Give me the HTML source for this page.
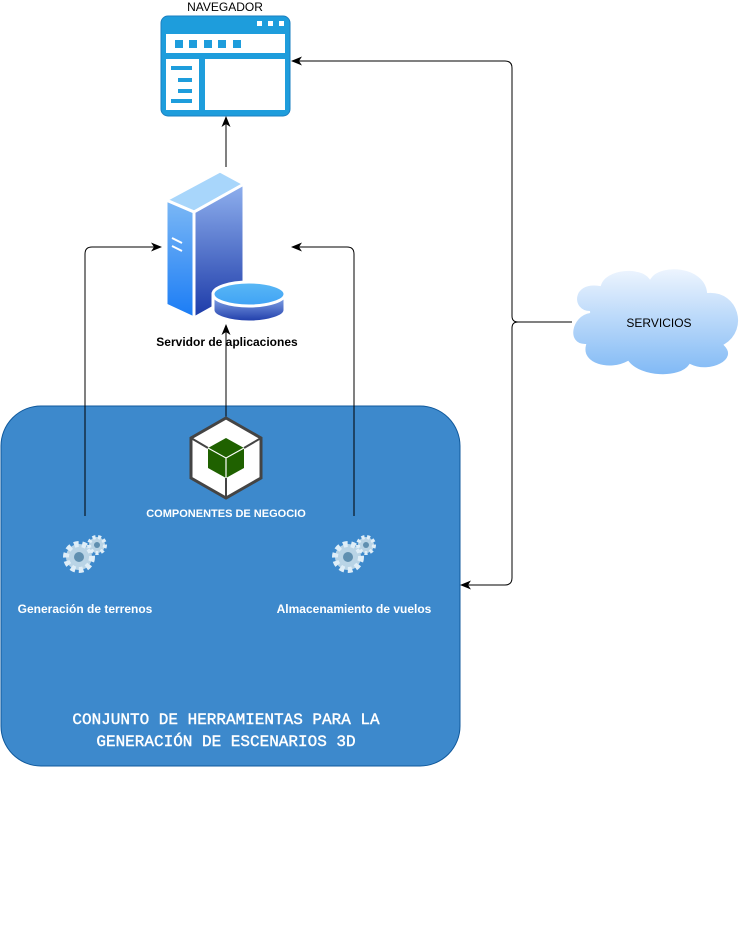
<!DOCTYPE html>
<html><head><meta charset="utf-8"><style>body{margin:0;background:#fff}svg{display:block}</style></head><body>
<svg width="748" height="947" viewBox="0 0 748 947" xmlns="http://www.w3.org/2000/svg" font-family="Liberation Sans, Arial, sans-serif">
<defs>
<marker id="a" markerWidth="12" markerHeight="12" refX="10" refY="6" orient="auto" markerUnits="userSpaceOnUse"><path d="M0,1.5 L11,6 L0,10.5 L3,6 Z" fill="#000"/></marker>
<linearGradient id="sv" x1="0" y1="0" x2="0" y2="1"><stop offset="0" stop-color="#7cb8f5"/><stop offset="1" stop-color="#1a7cf5"/></linearGradient>
<linearGradient id="sv2" x1="0" y1="0" x2="0" y2="1"><stop offset="0" stop-color="#8fb0ee"/><stop offset="1" stop-color="#1c3aa8"/></linearGradient>
<linearGradient id="sv3" x1="0" y1="0" x2="0" y2="1"><stop offset="0" stop-color="#5ab8f5"/><stop offset="1" stop-color="#3fa2f5"/></linearGradient>
<linearGradient id="cl" x1="0" y1="0" x2="0" y2="1"><stop offset="0" stop-color="#eef5fe"/><stop offset="1" stop-color="#80b9f5"/></linearGradient>
</defs>
<rect x="1" y="406" width="459" height="360" rx="40" fill="#3d89cc" stroke="#10599c" stroke-width="1"/>
<text x="225" y="11" font-size="12" text-anchor="middle" fill="#000">NAVEGADOR</text>
<rect x="161" y="16" width="129" height="100" rx="7" fill="#1e9ddc" stroke="#1a7fc0"/>
<rect x="257" y="21" width="5" height="5" fill="#fff"/><rect x="268" y="21" width="5" height="5" fill="#fff"/><rect x="279" y="21" width="5" height="5" fill="#fff"/>
<rect x="166" y="34" width="119" height="19" fill="#fff"/>
<g fill="#1e9ddc"><rect x="175" y="40" width="8" height="8"/><rect x="189" y="40" width="8" height="8"/><rect x="204" y="40" width="8" height="8"/><rect x="218" y="40" width="8" height="8"/><rect x="233" y="40" width="8" height="8"/></g>
<rect x="166" y="59" width="33" height="51" fill="#fff"/>
<rect x="205" y="59" width="80" height="51" fill="#fff"/>
<g fill="#1e9ddc"><rect x="171" y="66" width="21" height="4"/><rect x="178" y="78" width="14" height="4"/><rect x="178" y="89" width="14" height="4"/><rect x="171" y="99" width="21" height="4"/></g>
<polygon points="166,200 220,171 244,184 194,212" fill="#a8d6fb" stroke="#fff" stroke-width="3"/>
<polygon points="166,200 194,212 194,318 166,305" fill="url(#sv)" stroke="#fff" stroke-width="3"/>
<polygon points="194,212 244,184 244,290 194,318" fill="url(#sv2)" stroke="#fff" stroke-width="3"/>
<line x1="172" y1="238" x2="182" y2="243" stroke="#fff" stroke-width="2"/><line x1="172" y1="246" x2="182" y2="251" stroke="#fff" stroke-width="2"/>
<path d="M213,294 L213,310 A36,12 0 0 0 285,310 L285,294 Z" fill="url(#sv2)" stroke="#fff" stroke-width="3"/>
<ellipse cx="249" cy="294" rx="36" ry="12" fill="url(#sv3)" stroke="#fff" stroke-width="3"/>
<text x="227" y="346" font-size="12" font-weight="bold" text-anchor="middle" fill="#000">Servidor de aplicaciones</text>
<g fill="none" stroke="#000" stroke-width="1">
<line x1="226" y1="167" x2="226" y2="117" marker-end="url(#a)"/>
<line x1="226" y1="417" x2="226" y2="325" marker-end="url(#a)"/>
<path d="M85,516 L85,254 Q85,247 92,247 L161,247" marker-end="url(#a)"/>
<path d="M354,516 L354,254 Q354,247 347,247 L292,247" marker-end="url(#a)"/>
<path d="M572,322 L518,322 Q512,322 512,316 L512,68 Q512,61 505,61 L292,61" marker-end="url(#a)"/>
<path d="M518,322 Q512,322 512,328 L512,578 Q512,585 505,585 L461,585" marker-end="url(#a)"/>
</g>
<g fill="url(#cl)" stroke="#fff" stroke-width="2">
<path d="M590,312 C570,312 570,280 600,285 C605,268 640,265 650,278 C660,262 705,265 708,292 C740,290 750,330 725,345 C740,360 710,375 690,365 C680,380 640,378 628,362 C610,372 580,365 585,345 C565,345 570,315 590,312 Z"/>
</g>
<text x="659" y="327" font-size="12" text-anchor="middle" fill="#000">SERVICIOS</text>
<polygon points="226,418 261,438 261,478 226,498 191,478 191,438" fill="#fff" stroke="#444" stroke-width="3"/>
<line x1="191" y1="438" x2="208" y2="448" stroke="#444" stroke-width="2"/><line x1="261" y1="438" x2="244" y2="448" stroke="#444" stroke-width="2"/><line x1="226" y1="478" x2="226" y2="498" stroke="#444" stroke-width="2"/>
<polygon points="226,438 244,448 244,468 226,478 208,468 208,448" fill="#1f6100"/>
<path d="M208,448 L226,458 L244,448 M226,458 L226,478" stroke="#fff" stroke-width="1.2" fill="none"/>
<text x="226" y="517" font-size="11" font-weight="bold" text-anchor="middle" fill="#fff">COMPONENTES DE NEGOCIO</text>
<g id="g1">
<circle cx="79" cy="557" r="13" fill="#b9d4e6" stroke="#dfeef8" stroke-width="6" stroke-dasharray="4.5 3.5"/>
<circle cx="79" cy="557" r="5" fill="#5f8fb0"/>
<circle cx="97" cy="545" r="8" fill="#b9d4e6" stroke="#dfeef8" stroke-width="4" stroke-dasharray="3 2.5"/>
<circle cx="97" cy="545" r="3" fill="#5f8fb0"/>
</g>
<use href="#g1" x="269"/>
<text x="85" y="613" font-size="12" font-weight="bold" text-anchor="middle" fill="#fff">Generación de terrenos</text>
<text x="354" y="613" font-size="12" font-weight="bold" text-anchor="middle" fill="#fff">Almacenamiento de vuelos</text>
<g font-size="16" font-family="Liberation Mono, monospace" text-anchor="middle" fill="#fff" stroke="#fff" stroke-width="0.4">
<text x="226" y="724">CONJUNTO DE HERRAMIENTAS PARA LA</text>
<text x="226" y="746">GENERACIÓN DE ESCENARIOS 3D</text>
</g>
</svg>
</body></html>
